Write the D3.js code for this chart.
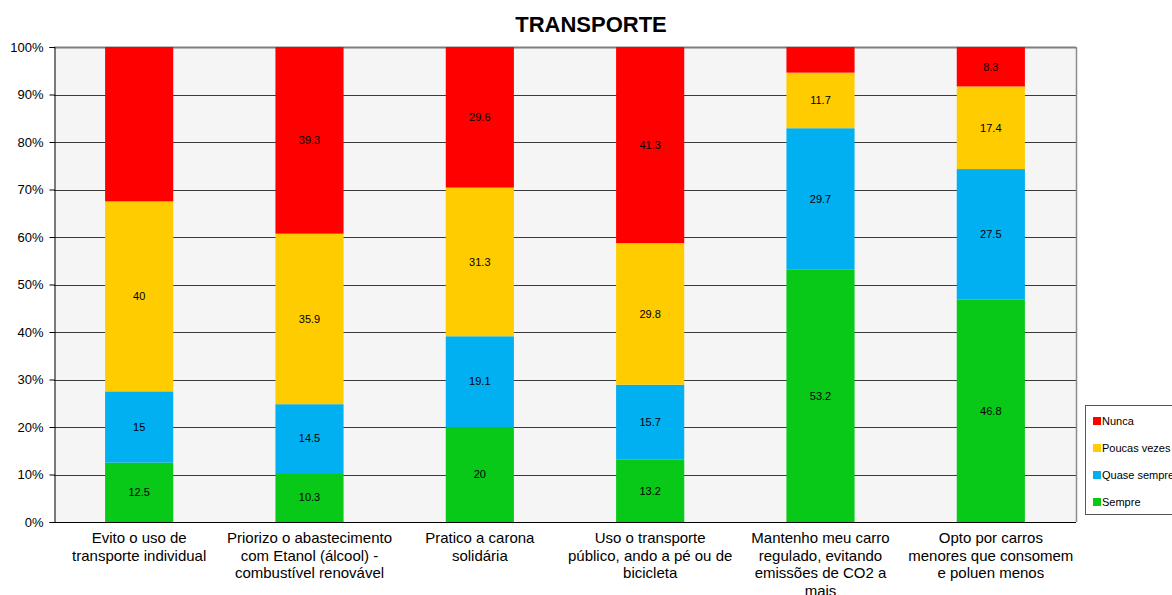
<!DOCTYPE html>
<html>
<head>
<meta charset="utf-8">
<script src="https://cdn.jsdelivr.net/npm/d3@7"></script>
<style>
  body { margin: 0; background: #fff; }
  svg { display: block; font-family: Arial, "Liberation Sans", sans-serif; }
</style>
</head>
<body>
<svg id="chart" width="1172" height="595"></svg>
<script>
// Survey answers on transport habits (percent of respondents)
const categories = [
  ["Evito o uso de", "transporte individual"],
  ["Priorizo o abastecimento", "com Etanol (álcool) -", "combustível renovável"],
  ["Pratico a carona", "solidária"],
  ["Uso o transporte", "público, ando a pé ou de", "bicicleta"],
  ["Mantenho meu carro", "regulado, evitando", "emissões de CO2 a", "mais"],
  ["Opto por carros", "menores que consomem", "e poluen menos"]
];
const seriesNames = ["Sempre", "Quase sempre", "Poucas vezes", "Nunca"];
const sempre      = [12.5, 10.3, 20.0, 13.2, 53.2, 46.8];
const quaseSempre = [15.0, 14.5, 19.1, 15.7, 29.7, 27.5];
const poucasVezes = [40.0, 35.9, 31.3, 29.8, 11.7, 17.4];
const nunca       = [32.5, 39.3, 29.6, 41.3, 5.4, 8.3];
// segments printed with their value
const showLabel = [
  [true, true, true, true, true, true],
  [true, true, true, true, true, true],
  [true, true, true, true, true, true],
  [false, true, true, true, false, true]
];
const yTicks = [0, 10, 20, 30, 40, 50, 60, 70, 80, 90, 100];
const colors = ["#08c818", "#00b0f0", "#ffcc00", "#ff0000"];

const values = [sempre, quaseSempre, poucasVezes, nunca];
const svg = d3.select("#chart");
const plot = { left: 54, right: 1076, top: 47, bottom: 522 };

const x = d3.scaleBand()
  .domain(d3.range(categories.length))
  .range([plot.left, plot.right])
  .paddingInner(0.6).paddingOuter(0.3);
const y = d3.scaleLinear().domain([0, 100]).range([plot.bottom, plot.top]);

// plot background
svg.append("rect")
  .attr("x", plot.left).attr("y", plot.top)
  .attr("width", plot.right - plot.left).attr("height", plot.bottom - plot.top)
  .attr("fill", "#f5f5f5");

// gridlines
svg.append("g").selectAll("line").data(yTicks.slice(1)).join("line")
  .attr("x1", plot.left).attr("x2", plot.right)
  .attr("y1", d => Math.round(y(d)) + 0.5).attr("y2", d => Math.round(y(d)) + 0.5)
  .attr("stroke", d => d === 100 ? "#7f7f7f" : "#3a3a3a")
  .attr("stroke-width", d => d === 100 ? 2 : 1);

// right border
svg.append("line")
  .attr("x1", plot.right + 0.5).attr("x2", plot.right + 0.5)
  .attr("y1", plot.top).attr("y2", plot.bottom)
  .attr("stroke", "#8c8c8c").attr("stroke-width", 1.5);

// stacked bars
const stackData = categories.map((c, i) => {
  const o = { i };
  seriesNames.forEach((s, k) => { o[s] = values[k][i]; });
  return o;
});
const stacked = d3.stack().keys(seriesNames)(stackData);

const layers = svg.append("g").selectAll("g").data(stacked).join("g")
  .attr("fill", (d, k) => colors[k]);
layers.selectAll("rect").data(d => d).join("rect")
  .attr("x", d => x(d.data.i))
  .attr("width", x.bandwidth())
  .attr("y", d => y(d[1]))
  .attr("height", d => y(d[0]) - y(d[1]));

// value labels
stacked.forEach((layer, k) => {
  svg.append("g").selectAll("text").data(layer.filter((d, i) => showLabel[k][i])).join("text")
    .attr("x", d => x(d.data.i) + x.bandwidth() / 2)
    .attr("y", d => (y(d[0]) + y(d[1])) / 2)
    .attr("dy", "0.35em")
    .attr("text-anchor", "middle")
    .attr("font-size", 11)
    .attr("fill", "#000")
    .text(d => d.data[seriesNames[k]]);
});

// y axis
const yAxis = d3.axisLeft(y).tickValues(yTicks).tickFormat(d => d + "%").tickSize(5).tickPadding(6);
const gy = svg.append("g").attr("transform", `translate(${plot.left + 0.5},0)`).call(yAxis);
gy.select(".domain").attr("stroke", "#000");
gy.selectAll(".tick line").attr("stroke", "#000");
gy.selectAll(".tick text").attr("font-size", 13).attr("fill", "#000")
  .attr("font-family", "Arial, 'Liberation Sans', sans-serif");

// x axis baseline
svg.append("line")
  .attr("x1", plot.left).attr("x2", plot.right)
  .attr("y1", plot.bottom + 0.5).attr("y2", plot.bottom + 0.5)
  .attr("stroke", "#000");

// category labels
const xl = svg.append("g").selectAll("text").data(categories).join("text")
  .attr("text-anchor", "middle")
  .attr("font-size", 15)
  .attr("fill", "#000")
  .attr("transform", (d, i) => `translate(${x(i) + x.bandwidth() / 2},543)`);
xl.selectAll("tspan").data(d => d).join("tspan")
  .attr("x", 0).attr("dy", (d, j) => j === 0 ? 0 : 17.5)
  .text(d => d);

// title
svg.append("text")
  .attr("x", 591).attr("y", 32)
  .attr("text-anchor", "middle")
  .attr("font-size", 22).attr("font-weight", "bold")
  .text("TRANSPORTE");

// legend
const lg = svg.append("g").attr("transform", "translate(1085,405)");
lg.append("rect").attr("x", 0.5).attr("y", 0.5).attr("width", 120).attr("height", 109)
  .attr("fill", "#fff").attr("stroke", "#555");
const items = lg.selectAll("g.item").data(seriesNames.slice().reverse()).join("g")
  .attr("class", "item")
  .attr("transform", (d, i) => `translate(8,${16 + i * 27})`);
items.append("rect").attr("width", 8).attr("height", 8).attr("y", -4)
  .attr("fill", d => colors[seriesNames.indexOf(d)]);
items.append("text").attr("x", 9).attr("dy", "0.35em").attr("font-size", 11)
  .text(d => d);
</script>
</body>
</html>
